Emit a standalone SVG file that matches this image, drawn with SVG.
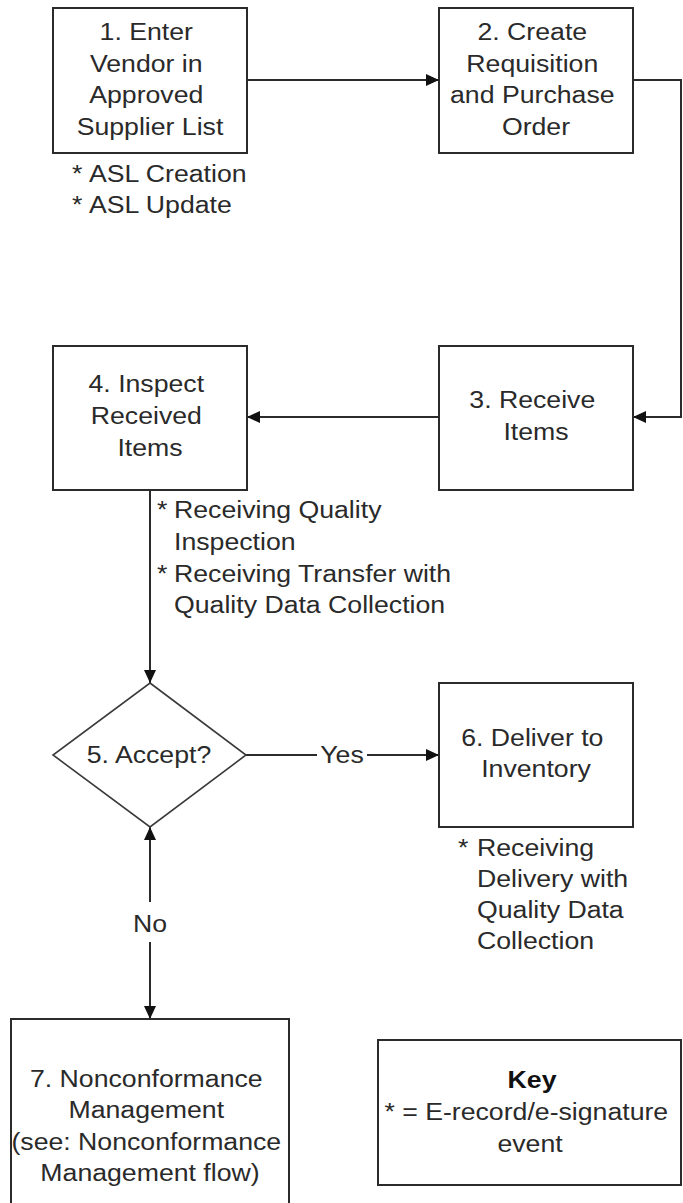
<svg xmlns="http://www.w3.org/2000/svg" width="683" height="1203" viewBox="0 0 683 1203">
  <style>
    .box { fill: #ffffff; stroke: #2b2b2b; stroke-width: 2; }
    .dia { fill: #ffffff; stroke: #3a3a3a; stroke-width: 1.6; }
    .wire { fill: none; stroke: #2b2b2b; stroke-width: 2; }
    .t { font-family: "Liberation Sans", Arial, sans-serif; font-size: 23px; fill: #2a2a2a; }
    .c { text-anchor: middle; }
    .b { font-weight: bold; fill: #111111; }
  </style>
  <defs>
    <marker id="arrow" markerUnits="userSpaceOnUse" markerWidth="13" markerHeight="13" viewBox="0 0 13 12" refX="13" refY="6" orient="auto">
      <path d="M0,0 L13,6 L0,12 z" fill="#111111"/>
    </marker>
  </defs>

  <!-- connectors -->
  <g id="connectors">
    <path class="wire" d="M247,80 H439" marker-end="url(#arrow)"/>
    <path class="wire" d="M633,80 H681 V417 H633" marker-end="url(#arrow)"/>
    <path class="wire" d="M439,417 H247" marker-end="url(#arrow)"/>
    <path class="wire" d="M150,490 V683" marker-end="url(#arrow)"/>
    <path class="wire" d="M246,755 H317"/>
    <path class="wire" d="M367,755 H439" marker-end="url(#arrow)"/>
    <path class="wire" d="M150,902 V827" marker-end="url(#arrow)"/>
    <path class="wire" d="M150,942 V1019" marker-end="url(#arrow)"/>
    <text class="t c" transform="translate(342 763) scale(1.16 1)">Yes</text>
    <text class="t c" transform="translate(150 932) scale(1.16 1)">No</text>
  </g>

  <!-- 1. Enter vendor -->
  <g id="node1">
    <rect class="box" x="53" y="8" width="194" height="145"/>
    <text class="t c" transform="translate(150 0) scale(1.16 1)">
      <tspan x="0" y="40">1. Enter</tspan>
      <tspan x="0" y="72">Vendor in</tspan>
      <tspan x="0" y="103">Approved</tspan>
      <tspan x="0" y="135">Supplier List</tspan>
    </text>
    <text class="t" transform="translate(72 0) scale(1.16 1)">
      <tspan x="0" y="182">*</tspan>
      <tspan x="0" y="213">*</tspan>
    </text>
    <text class="t" transform="translate(89 0) scale(1.16 1)">
      <tspan x="0" y="182">ASL Creation</tspan>
      <tspan x="0" y="213">ASL Update</tspan>
    </text>
  </g>

  <!-- 2. Requisition / PO -->
  <g id="node2">
    <rect class="box" x="439" y="8" width="194" height="145"/>
    <text class="t c" transform="translate(536 0) scale(1.16 1)">
      <tspan x="0" y="40">2. Create</tspan>
      <tspan x="0" y="72">Requisition</tspan>
      <tspan x="0" y="103">and Purchase</tspan>
      <tspan x="0" y="135">Order</tspan>
    </text>
  </g>

  <!-- 3. Receive -->
  <g id="node3">
    <rect class="box" x="439" y="346" width="194" height="144"/>
    <text class="t c" transform="translate(536 0) scale(1.16 1)">
      <tspan x="0" y="408">3. Receive</tspan>
      <tspan x="0" y="440">Items</tspan>
    </text>
  </g>

  <!-- 4. Inspect -->
  <g id="node4">
    <rect class="box" x="53" y="346" width="194" height="144"/>
    <text class="t c" transform="translate(150 0) scale(1.16 1)">
      <tspan x="0" y="392">4. Inspect</tspan>
      <tspan x="0" y="424">Received</tspan>
      <tspan x="0" y="456">Items</tspan>
    </text>
    <text class="t" transform="translate(157 0) scale(1.16 1)">
      <tspan x="0" y="518">*</tspan>
      <tspan x="0" y="582">*</tspan>
    </text>
    <text class="t" transform="translate(174 0) scale(1.16 1)">
      <tspan x="0" y="518">Receiving Quality</tspan>
      <tspan x="0" y="550">Inspection</tspan>
      <tspan x="0" y="582">Receiving Transfer with</tspan>
      <tspan x="0" y="613">Quality Data Collection</tspan>
    </text>
  </g>

  <!-- 5. Decision -->
  <g id="node5">
    <polygon class="dia" points="150,683 246,755 150,827 53,755"/>
    <text class="t c" transform="translate(149 763) scale(1.16 1)">5. Accept?</text>
  </g>

  <!-- 6. Deliver -->
  <g id="node6">
    <rect class="box" x="439" y="683" width="194" height="144"/>
    <text class="t c" transform="translate(536 0) scale(1.16 1)">
      <tspan x="0" y="746">6. Deliver to</tspan>
      <tspan x="0" y="777">Inventory</tspan>
    </text>
    <text class="t" transform="translate(458 856) scale(1.16 1)">*</text>
    <text class="t" transform="translate(477 0) scale(1.16 1)">
      <tspan x="0" y="856">Receiving</tspan>
      <tspan x="0" y="887">Delivery with</tspan>
      <tspan x="0" y="918">Quality Data</tspan>
      <tspan x="0" y="949">Collection</tspan>
    </text>
  </g>

  <!-- 7. Nonconformance -->
  <g id="node7">
    <rect class="box" x="11" y="1019" width="278" height="220"/>
    <text class="t c" transform="translate(150 0) scale(1.16 1)">
      <tspan x="0" y="1087">7. Nonconformance</tspan>
      <tspan x="0" y="1118">Management</tspan>
      <tspan x="0" y="1150">(see: Nonconformance</tspan>
      <tspan x="0" y="1181">Management flow)</tspan>
    </text>
  </g>

  <!-- legend -->
  <g id="key">
    <rect class="box" x="378" y="1040" width="303" height="145"/>
    <text class="t c b" transform="translate(532 1088) scale(1.16 1)">Key</text>
    <text class="t c" transform="translate(530 0) scale(1.16 1)">
      <tspan x="0" y="1120">* = E-record/e-signature</tspan>
      <tspan x="0" y="1152">event</tspan>
    </text>
  </g>
</svg>
